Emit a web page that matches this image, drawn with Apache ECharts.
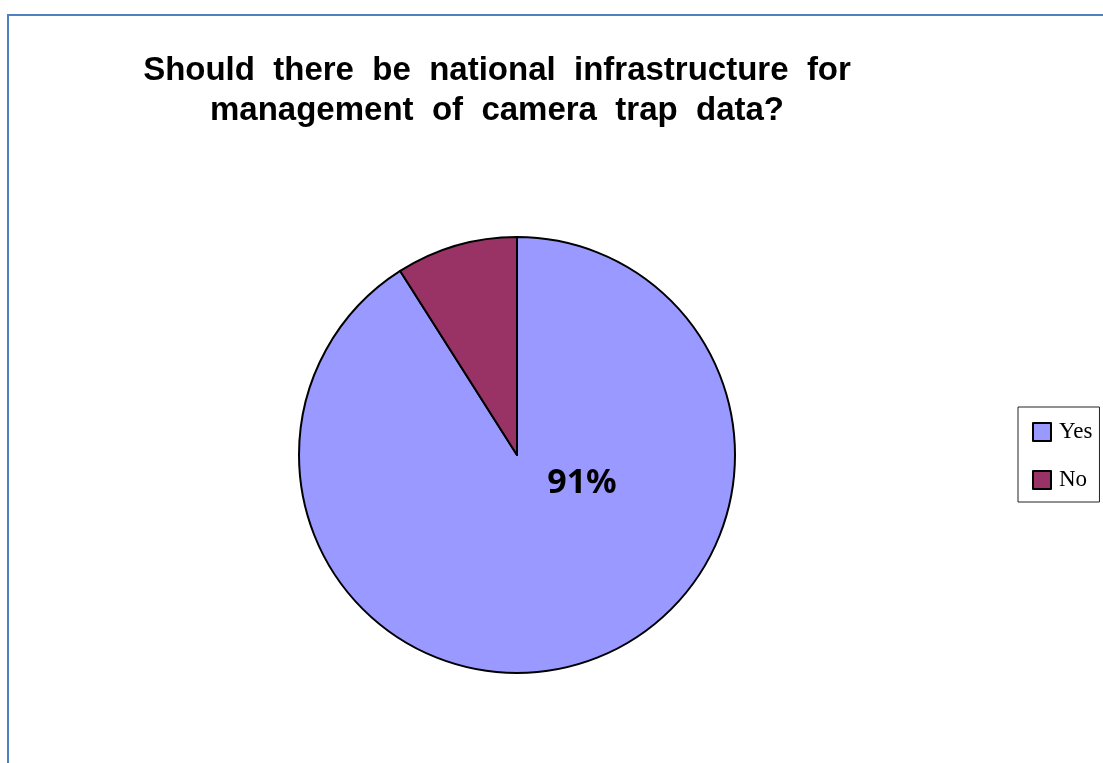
<!DOCTYPE html>
<html><head><meta charset="utf-8">
<script src="https://cdn.jsdelivr.net/npm/echarts@6/dist/echarts.min.js"></script>
<style>html,body{margin:0;padding:0;background:#fff}#c{width:1103px;height:763px}</style>
</head><body><div id="c"></div>
<script>
const titleLines = ['Should  there  be  national  infrastructure  for', 'management  of  camera  trap  data?'];
const categories = ['Yes', 'No'];
const values = [91, 9];
const colors = ['#9999ff', '#993366'];
const labelShown = [true, false];

const chart = echarts.init(document.getElementById('c'));
chart.setOption({
  animation: false,
  backgroundColor: '#fff',
  graphic: [{
    type: 'rect', shape: {x: 8, y: 15, width: 1200, height: 800},
    style: {fill: 'none', stroke: '#4f80c2', lineWidth: 2}, silent: true
  }],
  title: {
    text: titleLines.join('\n'),
    left: 492, top: 46, textAlign: 'center',
    textStyle: {fontFamily: 'Liberation Sans', fontWeight: 'bold', fontSize: 33, lineHeight: 40, color: '#000'}
  },
  legend: {
    orient: 'vertical', left: 1018, top: 407,
    data: categories,
    borderColor: '#222', borderWidth: 1,
    padding: [13, 7, 10, 14],
    itemWidth: 18, itemHeight: 18, itemGap: 24,
    icon: 'rect',
    itemStyle: {borderColor: '#000', borderWidth: 2},
    textStyle: {fontFamily: 'Liberation Serif', fontSize: 23, lineHeight: 24, color: '#000', padding: [0, 0, 0, 3]}
  },
  series: [{
    type: 'pie',
    center: [517, 455], radius: 218,
    startAngle: 90, clockwise: true,
    itemStyle: {borderColor: '#000', borderWidth: 2},
    label: {position: 'center', fontFamily: 'Noto Sans', fontWeight: 'bold', fontSize: 34, color: '#000', formatter: '{c}%'},
    labelLayout: {dx: 65, dy: 28},
    labelLine: {show: false},
    emphasis: {disabled: true},
    data: categories.map((n, i) => ({name: n, value: values[i], itemStyle: {color: colors[i]}, label: {show: labelShown[i]}}))
  }]
});
</script></body></html>
